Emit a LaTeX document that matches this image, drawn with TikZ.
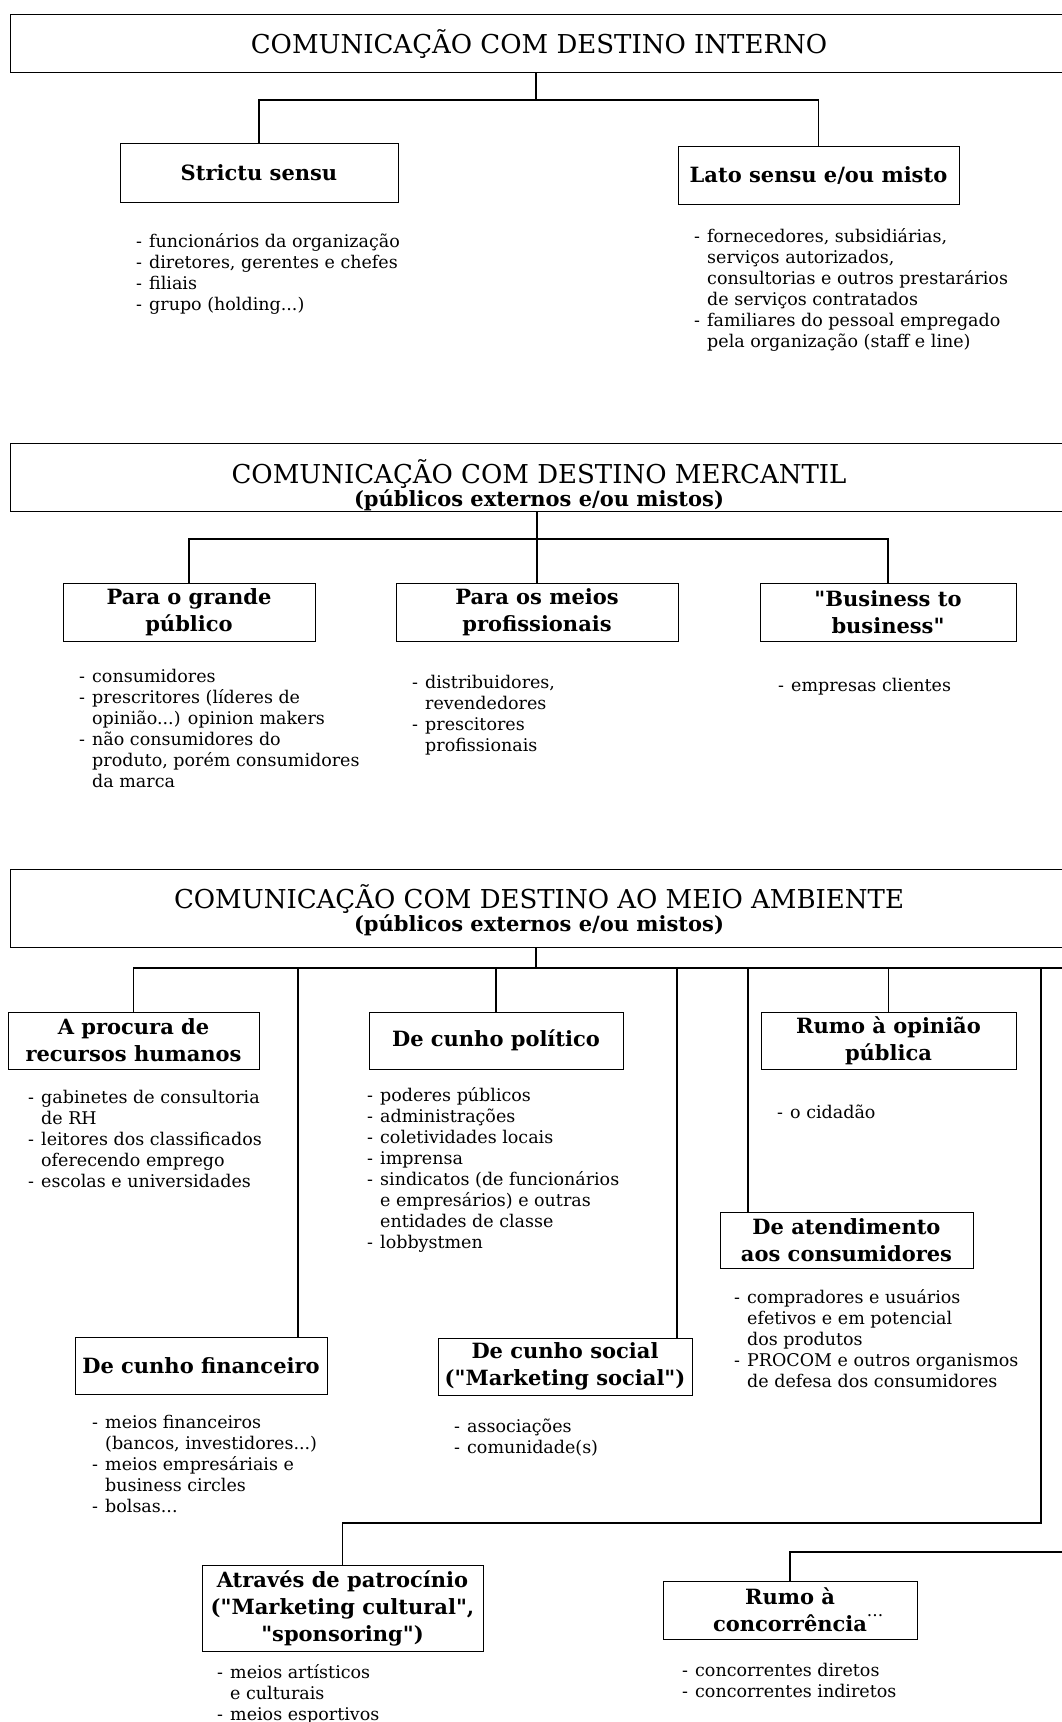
\documentclass[tikz,border=0pt]{standalone}
\usepackage{fontspec}
\setmainfont{DejaVu Serif}
\newfontfamily\dvs{DejaVu Serif}
\newcommand{\hdfont}{\dvs\fontsize{21}{27}\selectfont\bfseries}
\newcommand{\lsfont}{\dvs\fontsize{17.5}{21}\selectfont}
\newcommand{\tlfont}{\dvs\fontsize{26}{23}\selectfont}
\newcommand{\tlsub}{\dvs\fontsize{21}{23}\selectfont\bfseries}
\newcommand{\itm}{\rule{0pt}{16pt}\makebox[13pt][l]{-}}
\newcommand{\cnt}{\rule{0pt}{16pt}\hspace*{13pt}}
\begin{document}
\begin{tikzpicture}[x=1pt,y=-1pt,
  box/.style={draw=black, line width=0.9pt, inner sep=0pt, align=center, font=\hdfont},
  ttl/.style={draw=black, line width=0.9pt, inner sep=0pt, align=center, font=\tlfont, minimum width=1058pt},
  conn/.style={draw=black, line width=1.5pt},
  lst/.style={anchor=north west, inner sep=0pt, align=left, font=\lsfont}]
\useasboundingbox[fill=white] (0,0) rectangle (1062,1722);

% ---------- Section 1 ----------
\node[ttl, minimum height=58pt] (t1) at (539,43) {\rule{0pt}{27pt}COMUNICAÇÃO COM DESTINO INTERNO};
\node[box, minimum width=278pt, minimum height=59pt] (s1a) at (259,172.5) {Strictu sensu};
\node[box, minimum width=281pt, minimum height=58pt] (s1b) at (818.5,175) {Lato sensu e/ou misto};
\coordinate (j1) at (536,100);
\draw[conn] (j1 |- t1.south) -- (j1);
\draw[conn] (s1a.north) |- (j1) -| (s1b.north);

\node[lst] (l1a) at (136,231) {\itm funcionários da organização\\ \itm diretores, gerentes e chefes\\ \itm filiais\\ \itm grupo (holding...)};
\node[lst] (l1b) at (694,226) {\itm fornecedores, subsidiárias,\\ \cnt serviços autorizados,\\ \cnt consultorias e outros prestarários\\ \cnt de serviços contratados\\ \itm familiares do pessoal empregado\\ \cnt pela organização (staff e line)};

% ---------- Section 2 ----------
\node[ttl, minimum height=68pt] (t2) at (539,477) {{\tlfont\rule{0pt}{40pt}COMUNICAÇÃO COM DESTINO MERCANTIL}\\{\tlsub (públicos externos e/ou mistos)}};
\coordinate (j2) at (537,539);
\node[box, minimum width=252pt, minimum height=58pt] (p1) at (189,612) {Para o grande\\público};
\node[box, minimum width=282pt, minimum height=58pt] (p2) at (537,612) {Para os meios\\profissionais};
\node[box, minimum width=256pt, minimum height=58pt] (p3) at (888,612) {"Business to\\business"};
\draw[conn] (j2 |- t2.south) -- (p2.north);
\draw[conn] (p1.north) |- (j2) -| (p3.north);

\node[lst] (l2a) at (79,666) {\itm consumidores\\ \itm prescritores (líderes de\\ \cnt opinião...) opinion makers\\ \itm não consumidores do\\ \cnt produto, porém consumidores\\ \cnt da marca};
\node[lst] (l2b) at (412,672) {\itm distribuidores,\\ \cnt revendedores\\ \itm prescitores\\ \cnt profissionais};
\node[lst] (l2c) at (778,675) {\itm empresas clientes};

% ---------- Section 3 ----------
\node[ttl, minimum height=78pt] (t3) at (539,908) {{\tlfont\rule{0pt}{28pt}COMUNICAÇÃO COM DESTINO AO MEIO AMBIENTE}\\{\tlsub (públicos externos e/ou mistos)}};
\coordinate (j3) at (536,968);
\coordinate (busE) at (1070,968);
\draw[conn] (j3 |- t3.south) -- (j3);

\node[box, minimum width=251pt, minimum height=57pt] (b1) at (133.5,1040.5) {A procura de\\recursos humanos};
\node[box, minimum width=254pt, minimum height=57pt] (b2) at (496,1040.5) {De cunho político};
\node[box, minimum width=255pt, minimum height=57pt] (b3) at (888.5,1040.5) {Rumo à opinião\\pública};
\node[box, minimum width=253pt, minimum height=56pt] (b4) at (846.5,1240) {De atendimento\\aos consumidores};
\node[box, minimum width=252pt, minimum height=57pt] (b5) at (201,1365.5) {De cunho financeiro};
\node[box, minimum width=254pt, minimum height=57pt] (b6) at (565,1366.5) {De cunho social\\("Marketing social")};
\node[box, minimum width=281pt, minimum height=86pt] (b7) at (342.5,1608) {Através de patrocínio\\("Marketing cultural",\\"sponsoring")};
\node[box, minimum width=254pt, minimum height=58pt] (b8) at (790,1610) {Rumo à\\concorrência\rlap{\raisebox{15pt}{\dvs\mdseries\fontsize{17}{17}\selectfont ...}}};

\draw[conn] (b1.north) |- (busE);
\draw[conn] (b2.north) -- (b2.north |- j3);
\draw[conn] (b3.north) -- (b3.north |- j3);
\draw[conn] ([xshift=-98.5pt]b4.north) -- ([xshift=-98.5pt]b4.north |- j3);
\draw[conn] ([xshift=97pt]b5.north) -- ([xshift=97pt]b5.north |- j3);
\draw[conn] ([xshift=112pt]b6.north) -- ([xshift=112pt]b6.north |- j3);
\coordinate (k7) at (1041,968);
\coordinate (r7) at (1041,1523);
\draw[conn] (k7) -- (r7) -| (b7.north);
\coordinate (k8) at (1070,1552);
\draw[conn] (k8) -| (b8.north);

\node[lst] (l3a) at (28,1087) {\itm gabinetes de consultoria\\ \cnt de RH\\ \itm leitores dos classificados\\ \cnt oferecendo emprego\\ \itm escolas e universidades};
\node[lst] (l3b) at (367,1085) {\itm poderes públicos\\ \itm administrações\\ \itm coletividades locais\\ \itm imprensa\\ \itm sindicatos (de funcionários\\ \cnt e empresários) e outras\\ \cnt entidades de classe\\ \itm lobbystmen};
\node[lst] (l3c) at (777,1102) {\itm o cidadão};
\node[lst] (l3d) at (734,1287) {\itm compradores e usuários\\ \cnt efetivos e em potencial\\ \cnt dos produtos\\ \itm PROCOM e outros organismos\\ \cnt de defesa dos consumidores};
\node[lst] (l3e) at (92,1412) {\itm meios financeiros\\ \cnt (bancos, investidores...)\\ \itm meios empresáriais e\\ \cnt business circles\\ \itm bolsas...};
\node[lst] (l3f) at (454,1416) {\itm associações\\ \itm comunidade(s)};
\node[lst] (l3g) at (217,1662) {\itm meios artísticos\\ \cnt e culturais\\ \itm meios esportivos};
\node[lst] (l3h) at (682,1660) {\itm concorrentes diretos\\ \itm concorrentes indiretos};
\end{tikzpicture}
\end{document}
